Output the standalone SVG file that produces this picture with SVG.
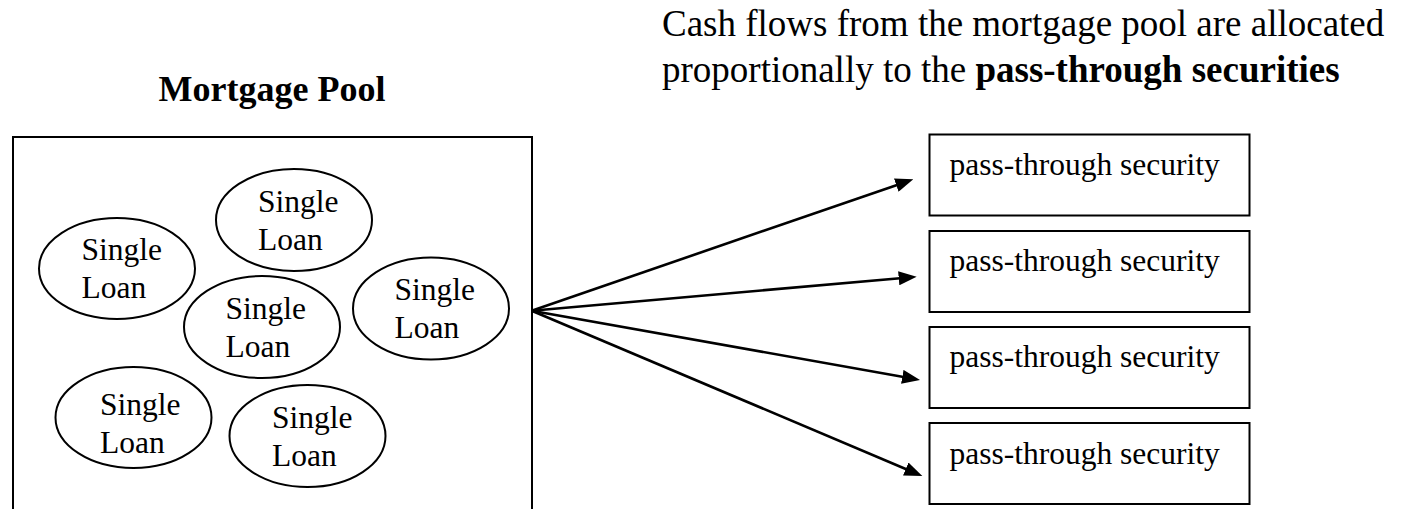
<svg xmlns="http://www.w3.org/2000/svg" width="1402" height="509" viewBox="0 0 1402 509">
  <style>
    .serif { font-family: "Liberation Serif", "Times New Roman", serif; fill: #000; }
    .title { font-size: 36px; font-weight: bold; }
    .note { font-size: 37px; }
    .label { font-size: 31.5px; }
    .shape { fill: #fff; stroke: #000; stroke-width: 2; }
    .flow { stroke: #000; stroke-width: 2.6; fill: none; marker-end: url(#arrowhead); }
  </style>
  <defs>
    <marker id="arrowhead" markerUnits="userSpaceOnUse" markerWidth="18" markerHeight="14" refX="7" refY="7" orient="auto">
      <path d="M0,0 L18,7 L0,14 z" fill="#000"/>
    </marker>
  </defs>

  <rect width="1402" height="509" fill="#fff"/>

  <!-- headings -->
  <text class="serif title" x="272" y="101" text-anchor="middle">Mortgage Pool</text>
  <text class="serif note" x="662" y="36">Cash flows from the mortgage pool are allocated</text>
  <text class="serif note" x="662" y="82">proportionally to the <tspan font-weight="bold">pass-through securities</tspan></text>

  <!-- pool container (open at the bottom edge) -->
  <g id="pool">
    <path class="shape" d="M13,515 L13,137 L532,137 L532,515" fill="none"/>
  </g>

  <!-- loans -->
  <g id="loan1">
    <ellipse class="shape" cx="117" cy="268.5" rx="78" ry="50.5"/>
    <text class="serif label" x="81.5" y="260">Single</text>
    <text class="serif label" x="81.5" y="298">Loan</text>
  </g>
  <g id="loan2">
    <ellipse class="shape" cx="294" cy="220" rx="78" ry="51"/>
    <text class="serif label" x="258" y="212">Single</text>
    <text class="serif label" x="258" y="250">Loan</text>
  </g>
  <g id="loan3">
    <ellipse class="shape" cx="262" cy="327" rx="78" ry="51"/>
    <text class="serif label" x="225.5" y="318.5">Single</text>
    <text class="serif label" x="225.5" y="356.5">Loan</text>
  </g>
  <g id="loan4">
    <ellipse class="shape" cx="431" cy="308.5" rx="78" ry="51"/>
    <text class="serif label" x="394.5" y="300">Single</text>
    <text class="serif label" x="394.5" y="338">Loan</text>
  </g>
  <g id="loan5">
    <ellipse class="shape" cx="133.5" cy="417.5" rx="78" ry="50.5"/>
    <text class="serif label" x="100" y="415">Single</text>
    <text class="serif label" x="100" y="453">Loan</text>
  </g>
  <g id="loan6">
    <ellipse class="shape" cx="307.5" cy="436" rx="78" ry="51"/>
    <text class="serif label" x="272" y="428">Single</text>
    <text class="serif label" x="272" y="465.5">Loan</text>
  </g>

  <!-- securities -->
  <g id="security1">
    <rect class="shape" x="929.5" y="134.5" width="320" height="81"/>
    <text class="serif label" x="949.5" y="175">pass-through security</text>
  </g>
  <g id="security2">
    <rect class="shape" x="929.5" y="231" width="320" height="81"/>
    <text class="serif label" x="949.5" y="271">pass-through security</text>
  </g>
  <g id="security3">
    <rect class="shape" x="929.5" y="327" width="320" height="81"/>
    <text class="serif label" x="949.5" y="367">pass-through security</text>
  </g>
  <g id="security4">
    <rect class="shape" x="929.5" y="423" width="320" height="81"/>
    <text class="serif label" x="949.5" y="463.5">pass-through security</text>
  </g>

  <!-- cash-flow connectors -->
  <g id="connectors">
    <line class="flow" x1="531.7" y1="310.7" x2="902.9" y2="182.9"/>
    <line class="flow" x1="531.7" y1="310.7" x2="905.7" y2="277.7"/>
    <line class="flow" x1="531.7" y1="310.7" x2="909.2" y2="378.0"/>
    <line class="flow" x1="531.7" y1="310.7" x2="912.2" y2="471.7"/>
  </g>
</svg>
